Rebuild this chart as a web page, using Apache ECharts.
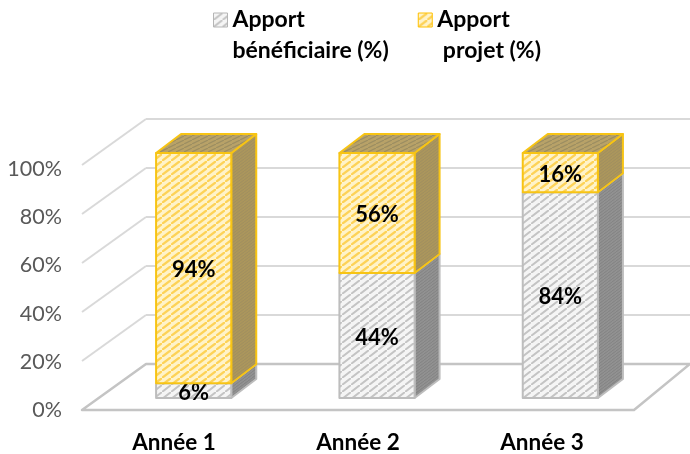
<!DOCTYPE html>
<html><head><meta charset="utf-8">
<style>html,body{margin:0;padding:0;background:#fff}#c{width:690px;height:454px}</style>
<script src="https://cdn.jsdelivr.net/npm/echarts@6/dist/echarts.min.js"></script>
</head><body><div id="c"></div>
<script>
const categories = ['Année 1', 'Année 2', 'Année 3'];
const seriesNames = ['Apport\nbénéficiaire (%)', 'Apport\n projet (%)'];
// heights as drawn in the picture
const beneficiaryShare = [6, 51, 84];
const projectShare = [94, 49, 16];
// numbers printed on the bars
const beneficiaryLabels = ['6%', '44%', '84%'];
const projectLabels = ['94%', '56%', '16%'];
const yTicks = [0, 20, 40, 60, 80, 100];

function hatch(bg, fg, w, h, lw) {
  const c = document.createElement('canvas');
  c.width = w; c.height = h;
  const g = c.getContext('2d');
  g.fillStyle = bg; g.fillRect(0, 0, w, h);
  g.strokeStyle = fg; g.lineWidth = lw;
  for (const [dx, dy] of [[-w, -h], [0, 0], [w, h], [-w, h], [w, -h]]) {
    g.beginPath(); g.moveTo(dx, h + dy); g.lineTo(w + dx, dy); g.stroke();
  }
  return { image: c, repeat: 'repeat' };
}
const skins = {
  grey: {
    border: '#bdbdbd',
    front: hatch('#f5f5f5', '#c4c4c4', 9, 7, 2),
    side: hatch('#919191', '#838383', 4, 3, 1),
    top: hatch('#919191', '#838383', 4, 3, 1)
  },
  gold: {
    border: '#f7c414',
    front: hatch('#fff3c9', '#fdd257', 9, 7, 2.2),
    side: hatch('#ab965c', '#a08f60', 4, 3, 1),
    top: hatch('#b8a268', '#9c8e62', 8, 4, 1.2)
  }
};
const DX = 25, DY = -19;
function box(skin, labels, withTop) {
  return function (params, api) {
    const i = api.value(0), a = api.coord([i, api.value(1)]), b = api.coord([i, api.value(2)]);
    const w = api.size([1, 0])[0] * 0.41;
    const L = a[0] - w / 2, R = a[0] + w / 2, B = a[1], T = b[1];
    const line = { stroke: skin.border, lineWidth: 2, lineJoin: 'round' };
    const poly = (points, fill) => ({ type: 'polygon', shape: { points }, style: Object.assign({ fill }, line) });
    const kids = [
      poly([[R, B], [R + DX, B + DY], [R + DX, T + DY], [R, T]], skin.side)
    ];
    if (withTop) kids.push(poly([[L, T], [R, T], [R + DX, T + DY], [L + DX, T + DY]], skin.top));
    kids.push(poly([[L, B], [R, B], [R, T], [L, T]], skin.front));
    kids.push({ type: 'text', z2: 50, style: { text: labels[i], x: a[0], y: (B + T) / 2 + 2, textAlign: 'center', textVerticalAlign: 'middle', fill: '#000', font: 'bold 22px Lato' } });
    return { type: 'group', children: kids };
  };
}
const beneficiaryData = categories.map((c, i) => [i, 0, beneficiaryShare[i]]);
const projectData = categories.map((c, i) => [i, beneficiaryShare[i], beneficiaryShare[i] + projectShare[i]]);

const option = {
  animation: false,
  backgroundColor: '#fff',
  textStyle: { fontFamily: 'Lato' },
  legend: {
    left: 208, top: -1, itemGap: 29, itemWidth: 14, itemHeight: 44,
    icon: 'path://M0 0H14V14H0Z M0 44H0.01V44Z',
    selectedMode: false,
    textStyle: { fontFamily: 'Lato', fontWeight: 'bold', fontSize: 23, lineHeight: 31, color: '#000' },
    data: [
      { name: seriesNames[0], itemStyle: { color: skins.grey.front, borderColor: '#b5b5b5', borderWidth: 1 } },
      { name: seriesNames[1], itemStyle: { color: skins.gold.front, borderColor: '#ffc000', borderWidth: 1 } }
    ]
  },
  grid: [
    { left: 102, width: 550, top: 153, height: 245 },   // bars
    { left: 146, width: 544, top: 119, height: 245 },   // back wall
    { left: 82, width: 552, top: 169, height: 244 }     // front plane, tick labels
  ],
  xAxis: [
    { gridIndex: 0, type: 'category', data: categories, show: false },
    { gridIndex: 1, type: 'value', min: 0, max: 1, show: false },
    { gridIndex: 2, type: 'category', data: categories, axisLine: { show: false }, axisTick: { show: false },
      axisLabel: { margin: 21, fontFamily: 'Lato', fontWeight: 'bold', fontSize: 22.5, color: '#000' } }
  ],
  yAxis: [
    { gridIndex: 0, type: 'value', min: 0, max: 100, show: false },
    { gridIndex: 1, type: 'value', min: 0, max: 100, interval: 20, axisLine: { show: false }, axisTick: { show: false }, axisLabel: { show: false },
      splitLine: { lineStyle: { color: '#d9d9d9', width: 2 } } },
    { gridIndex: 2, type: 'value', min: 0, max: 100, interval: 20, axisLine: { show: false }, axisTick: { show: false }, splitLine: { show: false },
      axisLabel: { margin: 20, formatter: '{value}%', fontFamily: 'Lato', fontSize: 21.5, color: '#595959' } }
  ],
  series: [
    { type: 'custom', xAxisIndex: 1, yAxisIndex: 1, silent: true, clip: false, z: 2,
      data: yTicks.slice(1).map(v => [0, v]), encode: { x: 0, y: 1 },
      renderItem(params, api) {
        const p = api.coord([0, api.value(1)]);
        return { type: 'line', shape: { x1: p[0], y1: p[1], x2: p[0] - 64, y2: p[1] + 46 }, style: { stroke: '#d9d9d9', lineWidth: 2 } };
      } },
    { type: 'custom', xAxisIndex: 1, yAxisIndex: 1, silent: true, clip: false, z: 3,
      data: [[0, 0]], encode: { x: 0, y: 1 },
      renderItem(params, api) {
        const a = api.coord([0, 0]), b = api.coord([1, 0]);
        return { type: 'polygon', shape: { points: [a, b, [b[0] - 56, b[1] + 46], [a[0] - 64, a[1] + 46]] }, style: { fill: 'none', stroke: '#c4c4c4', lineWidth: 2.5, lineJoin: 'round' } };
      } },
    { name: seriesNames[0], type: 'custom', xAxisIndex: 0, yAxisIndex: 0, silent: true, clip: false, z: 5,
      data: beneficiaryData, encode: { x: 0, y: [1, 2] }, renderItem: box(skins.grey, beneficiaryLabels, false) },
    { name: seriesNames[1], type: 'custom', xAxisIndex: 0, yAxisIndex: 0, silent: true, clip: false, z: 6,
      data: projectData, encode: { x: 0, y: [1, 2] }, renderItem: box(skins.gold, projectLabels, true) }
  ]
};
echarts.init(document.getElementById('c'), null, { renderer: 'canvas' }).setOption(option);
</script></body></html>
